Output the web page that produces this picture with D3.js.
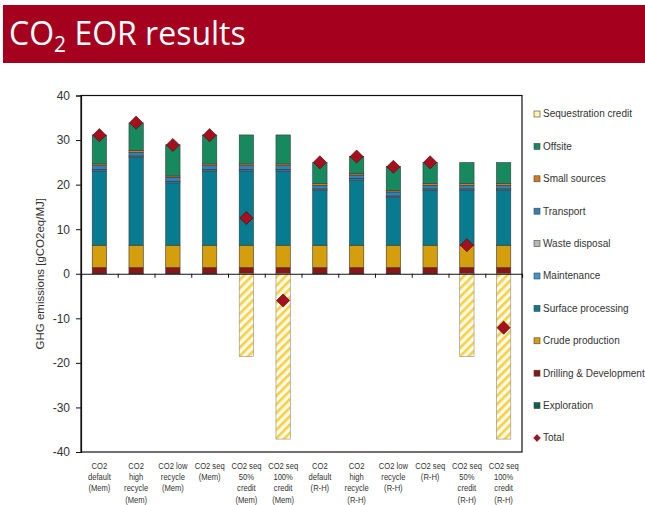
<!DOCTYPE html>
<html>
  <head>
    <meta charset="utf-8">
    <script src="https://d3js.org/d3.v7.min.js"></script>
    <style>
      body { margin: 0; background: #fff; }
      text { font-family: "Liberation Sans", Arial, sans-serif; }
    </style>
  </head>
  <body>
    <svg id="main" width="645" height="505"></svg>
    <script>
      var categories = [
        ["CO2", "default", "(Mem)"],
        ["CO2", "high", "recycle", "(Mem)"],
        ["CO2 low", "recycle", "(Mem)"],
        ["CO2 seq", "(Mem)"],
        ["CO2 seq", "50%", "credit", "(Mem)"],
        ["CO2 seq", "100%", "credit", "(Mem)"],
        ["CO2", "default", "(R-H)"],
        ["CO2", "high", "recycle", "(R-H)"],
        ["CO2 low", "recycle", "(R-H)"],
        ["CO2 seq", "(R-H)"],
        ["CO2 seq", "50%", "credit", "(R-H)"],
        ["CO2 seq", "100%", "credit", "(R-H)"]
      ];

      // stack order, bottom to top
      var exploration = [0.1, 0.1, 0.1, 0.1, 0.1, 0.1, 0.1, 0.1, 0.1, 0.1, 0.1, 0.1];
      var drilling    = [1.3, 1.3, 1.3, 1.3, 1.3, 1.3, 1.3, 1.3, 1.3, 1.3, 1.3, 1.3];
      var crude       = [5.0, 5.0, 5.0, 5.0, 5.0, 5.0, 5.0, 5.0, 5.0, 5.0, 5.0, 5.0];
      var surface     = [16.6, 19.7, 14.0, 16.6, 16.6, 16.6, 12.3, 14.6, 10.7, 12.3, 12.3, 12.3];
      var maintenance = [0.3, 0.3, 0.3, 0.3, 0.3, 0.3, 0.3, 0.3, 0.3, 0.3, 0.3, 0.3];
      var waste       = [0.05, 0.05, 0.05, 0.05, 0.05, 0.05, 0.05, 0.05, 0.05, 0.05, 0.05, 0.05];
      var transport   = [0.9, 0.8, 0.9, 0.9, 0.9, 0.9, 0.8, 0.8, 0.9, 0.8, 0.8, 0.8];
      var smallSrc    = [0.4, 0.4, 0.3, 0.4, 0.4, 0.4, 0.4, 0.4, 0.3, 0.4, 0.4, 0.4];
      var offsite     = [6.5, 6.2, 7.0, 6.5, 6.5, 6.5, 4.7, 3.8, 5.4, 4.7, 4.7, 4.7];
      var seqCredit   = [0, 0, 0, 0, -18.6, -37.1, 0, 0, 0, 0, -18.6, -37.1];
      var totals      = [31.1, 33.9, 28.9, 31.1, 12.5, -6.0, 25.0, 26.3, 24.0, 25.0, 6.4, -12.1];

      var yTicks = [-40, -30, -20, -10, 0, 10, 20, 30, 40];

      var series = [
        { name: "Exploration", values: exploration, color: "#0e5f5a" },
        { name: "Drilling & Development", values: drilling, color: "#8a1616" },
        { name: "Crude production", values: crude, color: "#d49e0c" },
        { name: "Surface processing", values: surface, color: "#077b8f" },
        { name: "Maintenance", values: maintenance, color: "#3a98d4" },
        { name: "Waste disposal", values: waste, color: "#b8b8b8" },
        { name: "Transport", values: transport, color: "#2d82b8" },
        { name: "Small sources", values: smallSrc, color: "#d57a1c" },
        { name: "Offsite", values: offsite, color: "#17895f" },
        { name: "Sequestration credit", values: seqCredit, color: "url(#hatch)" }
      ];

      var svg = d3.select("#main");

      // title bar
      svg.append("rect").attr("x", 3).attr("y", 5).attr("width", 642).attr("height", 58)
        .attr("fill", "#a5001e");
      var title = svg.append("text").attr("x", 9).attr("y", 45)
        .style("font-family", "'Open Sans', Lato, sans-serif")
        .style("font-size", "32px").attr("fill", "#fff");
      title.append("tspan").text("CO");
      title.append("tspan").attr("dy", 7).style("font-size", "21px").text("2");
      title.append("tspan").attr("dy", -7).text(" EOR results");

      var defs = svg.append("defs");
      var pat = defs.append("pattern").attr("id", "hatch")
        .attr("patternUnits", "userSpaceOnUse").attr("width", 6).attr("height", 6)
        .attr("patternTransform", "rotate(-45)");
      pat.append("rect").attr("width", 6).attr("height", 6).attr("fill", "#fffbe6");
      pat.append("rect").attr("width", 6).attr("height", 2.6).attr("fill", "#f6cf45");

      var plotL = 81, plotR = 522, plotT = 95.5, plotB = 452;

      var x = d3.scaleBand().domain(d3.range(categories.length))
        .range([plotL, plotR]).paddingInner(0.61).paddingOuter(0.305);
      var xEdges = d3.scaleLinear().domain([0, categories.length]).range([plotL, plotR]);
      var y = d3.scaleLinear().domain([-40, 40]).range([plotB, plotT]);

      // stacked bars
      categories.forEach(function(c, i) {
        var pos = 0, neg = 0;
        series.forEach(function(s) {
          var v = s.values[i];
          if (!v) return;
          var y0, y1;
          if (v > 0) { y0 = pos; y1 = pos + v; pos = y1; }
          else { y0 = neg + v; y1 = neg; neg = y0; }
          svg.append("rect")
            .attr("x", x(i)).attr("width", x.bandwidth())
            .attr("y", y(y1)).attr("height", y(y0) - y(y1))
            .attr("fill", s.color)
            .attr("stroke", v < 0 ? "#8a8a8a" : "#3a3a3a")
            .attr("stroke-width", 0.6);
        });
      });

      // frame
      svg.append("rect").attr("x", plotL).attr("y", plotT)
        .attr("width", plotR - plotL).attr("height", plotB - plotT)
        .attr("fill", "none").attr("stroke", "#111").attr("stroke-width", 1.2);

      // y axis
      var yAxis = svg.append("g").attr("transform", "translate(" + plotL + ",0)")
        .call(d3.axisLeft(y).tickValues(yTicks).tickSize(5).tickPadding(6)
          .tickFormat(function(d) { return String(d); }));
      yAxis.select(".domain").attr("stroke", "#111").attr("stroke-width", 1.2);
      yAxis.selectAll(".tick line").attr("stroke", "#111");
      yAxis.selectAll(".tick text").style("font-size", "12px").attr("fill", "#333");

      // zero line with category ticks
      var xAxis = svg.append("g").attr("transform", "translate(0," + y(0) + ")")
        .call(d3.axisBottom(xEdges).tickValues(d3.range(1, categories.length)).tickSize(4).tickFormat(""));
      xAxis.select(".domain").attr("stroke", "#111").attr("stroke-width", 1.2);
      xAxis.selectAll(".tick line").attr("stroke", "#111");

      // category labels
      categories.forEach(function(lines, i) {
        var cx = x(i) + x.bandwidth() / 2;
        var t = svg.append("text").attr("text-anchor", "middle")
          .attr("transform", "translate(" + cx + ",469) scale(0.8,1)")
          .style("font-size", "9.5px").attr("fill", "#333");
        lines.forEach(function(l, j) {
          t.append("tspan").attr("x", 0).attr("y", j * 11.2).text(l);
        });
      });

      // totals markers
      svg.selectAll(".total").data(totals).enter().append("path")
        .attr("class", "total")
        .attr("transform", function(d, i) {
          return "translate(" + (x(i) + x.bandwidth() / 2) + "," + y(d) + ")";
        })
        .attr("d", d3.symbol().type(d3.symbolDiamond2).size(110))
        .attr("fill", "#a50f1e").attr("stroke", "#4a0008").attr("stroke-width", 0.6);

      // y label
      svg.append("text").attr("transform", "translate(44," + y(0) + ") rotate(-90)")
        .attr("text-anchor", "middle").style("font-size", "11.5px").attr("fill", "#333")
        .text("GHG emissions [gCO2eq/MJ]");

      // legend
      var legendItems = series.slice().reverse().map(function(s) { return { name: s.name, color: s.color }; });
      legendItems.push({ name: "Total", color: "#a50f1e", marker: true });
      var lg = svg.selectAll(".lg").data(legendItems).enter().append("g")
        .attr("transform", function(d, i) { return "translate(534," + (114 + i * 32.4) + ")"; });
      lg.each(function(d) {
        var g = d3.select(this);
        if (d.marker) {
          g.append("path").attr("transform", "translate(3,0)")
            .attr("d", d3.symbol().type(d3.symbolDiamond2).size(30))
            .attr("fill", d.color).attr("stroke", "#4a0008").attr("stroke-width", 0.5);
        } else {
          g.append("rect").attr("x", 0).attr("y", -3).attr("width", 6).attr("height", 6)
            .attr("fill", d.color === "url(#hatch)" ? "#fff3b0" : d.color)
            .attr("stroke", "#444").attr("stroke-width", 0.6);
        }
      });
      lg.append("text").attr("x", 9).attr("y", 3.4).style("font-size", "10px")
        .attr("fill", "#333").text(function(d) { return d.name; });
    </script>
  </body>
</html>
